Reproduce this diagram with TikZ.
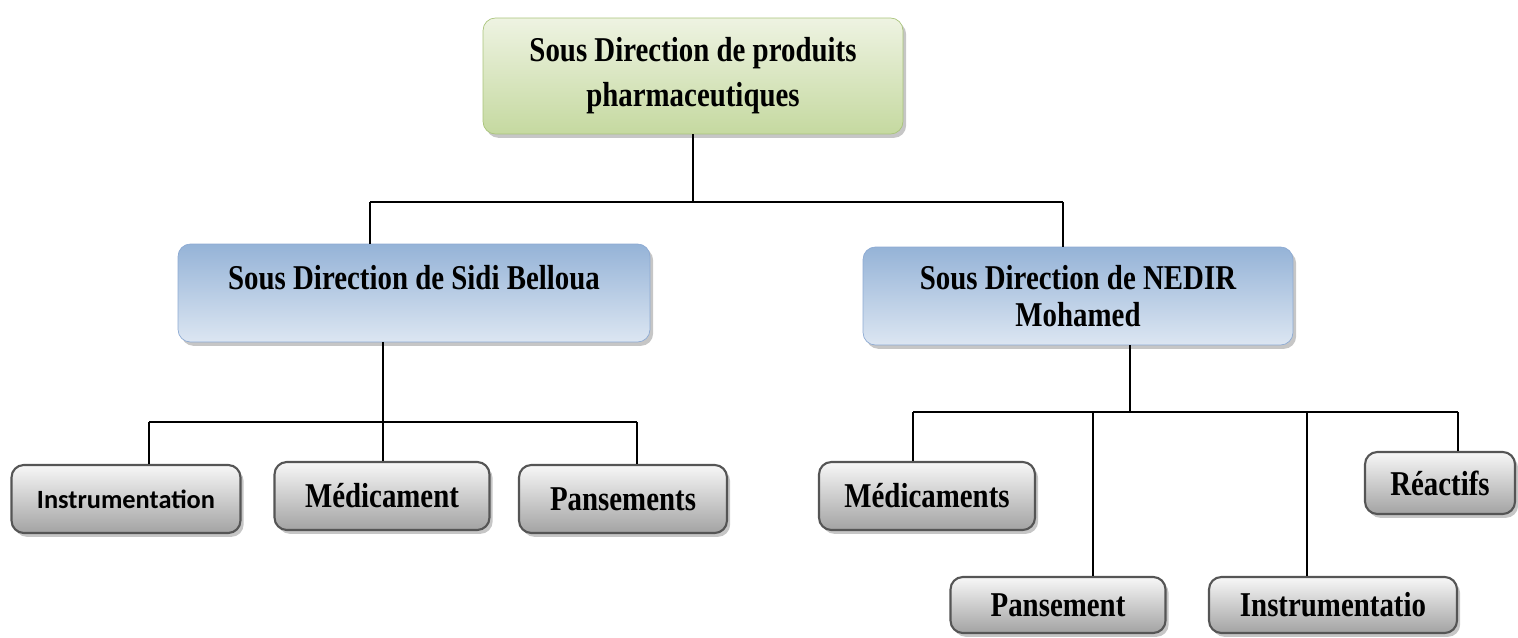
\documentclass[tikz,border=0pt]{standalone}
\usepackage{fontspec}
\setmainfont{Liberation Serif}[FakeStretch=0.83]
\newfontfamily\calibrifont{Carlito}
\usetikzlibrary{shadows}

\definecolor{grnTop}{HTML}{EEF3E2}
\definecolor{grnBot}{HTML}{C5D9A0}
\definecolor{grnLine}{HTML}{A9C47A}
\definecolor{bluTop}{HTML}{95B3D7}
\definecolor{bluBot}{HTML}{DCE6F2}
\definecolor{bluLine}{HTML}{8DAAD3}
\definecolor{gryTop}{HTML}{F7F7F7}
\definecolor{gryBot}{HTML}{A3A3A3}
\definecolor{gryLine}{HTML}{555555}

\begin{document}
\begin{tikzpicture}[x=0.02cm,y=-0.02cm,
  box/.style={rounded corners=7pt, align=center, inner sep=2pt,
	font=\fontsize{19.8}{21}\selectfont\bfseries,
	drop shadow={shadow xshift=1.8pt,shadow yshift=-2.2pt,opacity=.45}},
  head/.style={box, draw=grnLine, top color=grnTop, bottom color=grnBot,
	minimum width=8.4cm, minimum height=2.32cm, font=\fontsize{19.8}{25.6}\selectfont\bfseries},
  dept/.style={box, draw=bluLine, top color=bluTop, bottom color=bluBot, minimum height=1.96cm},
  leaf/.style={box, draw=gryLine, line width=1.2pt, top color=gryTop, bottom color=gryBot, minimum height=1.36cm},
  link/.style={line width=1pt}]
  \useasboundingbox (0,0) rectangle (1518,638);

  \node[head] (top) at (693,76) {Sous Direction de produits\\pharmaceutiques};
  \node[dept, minimum width=9.44cm, text height=0.45cm, text depth=0.57cm] (sidi) at (414,293) {Sous Direction de Sidi Belloua};
  \node[dept, minimum width=8.6cm] (nedir) at (1078,296) {Sous Direction de NEDIR\\Mohamed};

  \node[leaf, minimum width=4.58cm, font=\calibrifont\fontsize{15}{18}\selectfont\bfseries] (instr) at (126,499) {Instrumentation};
  \node[leaf, minimum width=4.3cm] (med1) at (382,496) {Médicament};
  \node[leaf, minimum width=4.16cm] (pans1) at (623,499) {Pansements};

  \node[leaf, minimum width=4.32cm] (med2) at (927,496) {Médicaments};
  \node[leaf, minimum width=3cm, minimum height=1.24cm] (react) at (1440,483) {Réactifs};
  \node[leaf, minimum width=4.3cm, minimum height=1.12cm] (pans2) at (1058,605) {Pansement};
  \node[leaf, minimum width=4.96cm, minimum height=1.12cm] (instr2) at (1333,605) {Instrumentatio};

  \coordinate (busTop) at (693,202);
  \coordinate (dSidi) at (370,202);
  \coordinate (dNedir) at (1063,202);
  \draw[link] (top.south) -- (busTop);
  \draw[link] (dSidi) -- (dNedir);
  \draw[link] (dSidi) -- (dSidi |- sidi.north);
  \draw[link] (dNedir) -- (dNedir |- nedir.north);

  \coordinate (dInstr) at (149,422);
  \coordinate (dMed1) at (383,422);
  \coordinate (dPans1) at (637,422);
  \draw[link] (dInstr) -- (dPans1);
  \draw[link] (dMed1 |- sidi.south) -- (dMed1 |- med1.north);
  \draw[link] (dInstr) -- (dInstr |- instr.north);
  \draw[link] (dPans1) -- (dPans1 |- pans1.north);

  \coordinate (dMed2) at (913,412);
  \coordinate (dNedirB) at (1130,412);
  \coordinate (dPans2) at (1093,412);
  \coordinate (dInstr2) at (1307,412);
  \coordinate (dReact) at (1458,412);
  \draw[link] (dMed2) -- (dReact);
  \draw[link] (dNedirB |- nedir.south) -- (dNedirB);
  \draw[link] (dMed2) -- (dMed2 |- med2.north);
  \draw[link] (dPans2) -- (dPans2 |- pans2.north);
  \draw[link] (dInstr2) -- (dInstr2 |- instr2.north);
  \draw[link] (dReact) -- (dReact |- react.north);
\end{tikzpicture}
\end{document}
